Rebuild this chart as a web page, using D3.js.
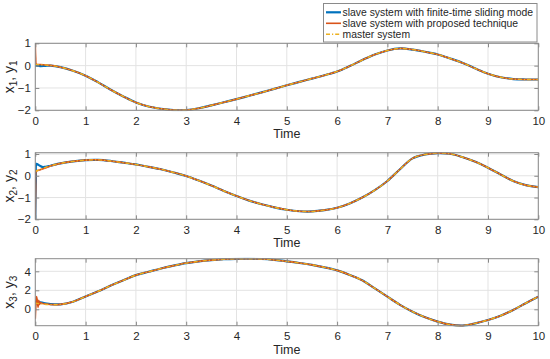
<!DOCTYPE html>
<html>
<head>
<meta charset="utf-8">
<script src="https://d3js.org/d3.v7.min.js"></script>
<style>
body { margin: 0; background: #fff; }
text { font-family: "Liberation Sans", Arial, Helvetica, sans-serif; fill: #262626; }
</style>
</head>
<body>
<script>
var time = [0, 0.25, 0.5, 0.75, 1, 1.25, 1.5, 1.75, 2, 2.25, 2.5, 2.75, 3, 3.25, 3.5, 3.75, 4, 4.25, 4.5, 4.75,
            5, 5.25, 5.5, 5.75, 6, 6.25, 6.5, 6.75, 7, 7.25, 7.5, 7.75, 8, 8.25, 8.5, 8.75, 9, 9.25, 9.5, 9.75, 10];

var x1Master = [0.05, 0.02, -0.07, -0.23, -0.45, -0.75, -1.08, -1.38, -1.65, -1.83, -1.93, -1.99, -1.99, -1.91, -1.78, -1.64, -1.5, -1.35, -1.2, -1.04,
                -0.88, -0.73, -0.58, -0.43, -0.26, -0.02, 0.25, 0.5, 0.68, 0.77, 0.72, 0.62, 0.5, 0.32, 0.12, -0.13, -0.36, -0.52, -0.6, -0.62, -0.62];
var x2Master = [0.2, 0.42, 0.57, 0.66, 0.72, 0.73, 0.68, 0.6, 0.52, 0.41, 0.3, 0.15, -0.01, -0.22, -0.45, -0.7, -0.93, -1.14, -1.31, -1.45,
                -1.56, -1.63, -1.64, -1.58, -1.47, -1.27, -1.0, -0.66, -0.24, 0.3, 0.8, 0.98, 1.04, 1.01, 0.85, 0.64, 0.37, 0.06, -0.24, -0.43, -0.52];
var x3Master = [0.65, 0.5, 0.52, 0.8, 1.35, 1.9, 2.5, 3.05, 3.6, 3.95, 4.3, 4.6, 4.87, 5.05, 5.18, 5.27, 5.32, 5.33, 5.3, 5.2,
                5.05, 4.88, 4.68, 4.42, 4.1, 3.62, 3.05, 2.2, 1.33, 0.47, -0.25, -0.85, -1.3, -1.62, -1.72, -1.48, -1.13, -0.68, -0.07, 0.64, 1.33];

// start-up transients of the two slave systems (after t = 0.3 they sit on the master curve)
var x1SlidingT = [0, 0.05, 0.1, 0.2, 0.3];
var x1SlidingV = [0.0, -0.01, -0.02, -0.01, 0.0];
var x1ProposedT = [0, 0.008, 0.02, 0.05, 0.1, 0.2, 0.3];
var x1ProposedV = [1.0, 0.35, 0.06, 0.05, 0.05, 0.03, 0.01];

var x2SlidingT = [0, 0.01, 0.025, 0.05, 0.1, 0.15, 0.2, 0.3];
var x2SlidingV = [-2, -0.3, 0.55, 0.52, 0.45, 0.4, 0.41, 0.46];
var x2ProposedT = [0, 0.008, 0.02, 0.05, 0.1, 0.2, 0.3];
var x2ProposedV = [-2, -0.6, 0.22, 0.24, 0.28, 0.36, 0.45];

var x3SlidingT = [0, 0.05, 0.1, 0.2, 0.3];
var x3SlidingV = [0.85, 0.78, 0.72, 0.63, 0.55];
var x3ProposedT = [0, 0.012, 0.025, 0.04, 0.055, 0.07, 0.085, 0.1, 0.15, 0.2, 0.3];
var x3ProposedV = [-1.0, 0.4, 1.35, 0.9, 0.2, 0.95, 0.5, 0.7, 0.6, 0.55, 0.5];

var xTicks = [0, 1, 2, 3, 4, 5, 6, 7, 8, 9, 10];
var yDomains = [[-2, 1], [-2, 1.06], [-1.73, 5.33]];
var yTicks = [[-2, -1, 0, 1], [-2, -1, 0, 1], [0, 2, 4]];
var yLabels = [["x", "1", ", y", "1"], ["x", "2", ", y", "2"], ["x", "3", ", y", "3"]];
var legendNames = ["slave system with finite-time sliding mode", "slave system with proposed technique", "master system"];

var colors = ["#0072BD", "#D95319", "#EDB120"];
var widths = [2.2, 1.6, 1.4];
var dashes = [null, null, "4,2,1.2,2"];

function splice(tt, vv, master) {
  var pts = tt.map(function(t, i) { return [t, vv[i]] });
  time.forEach(function(t, i) { if (t > 0.3) pts.push([t, master[i]]) });
  return pts;
}
function full(master) {
  return time.map(function(t, i) { return [t, master[i]] });
}

var panels = [
  [splice(x1SlidingT, x1SlidingV, x1Master), splice(x1ProposedT, x1ProposedV, x1Master), full(x1Master)],
  [splice(x2SlidingT, x2SlidingV, x2Master), splice(x2ProposedT, x2ProposedV, x2Master), full(x2Master)],
  [splice(x3SlidingT, x3SlidingV, x3Master), splice(x3ProposedT, x3ProposedV, x3Master), full(x3Master)]
];

var W = 550, H = 359;
var left = 35.3, right = 538.3;
var tops = [43.3, 152.7, 258.7], bottoms = [110.3, 219.3, 325.7];

var svg = d3.select("body").append("svg")
    .attr("width", W)
    .attr("height", H);

var x = d3.scaleLinear().domain([0, 10]).range([left, right]);

panels.forEach(function(series, p) {
  var y = d3.scaleLinear().domain(yDomains[p]).range([bottoms[p], tops[p]]);
  var g = svg.append("g");

  // grid
  g.append("g").selectAll("line").data(xTicks).enter().append("line")
      .attr("x1", function(d) { return x(d) }).attr("x2", function(d) { return x(d) })
      .attr("y1", tops[p]).attr("y2", bottoms[p])
      .attr("stroke", "#e3e3e3").attr("stroke-width", 1);
  g.append("g").selectAll("line").data(yTicks[p]).enter().append("line")
      .attr("x1", left).attr("x2", right)
      .attr("y1", function(d) { return y(d) }).attr("y2", function(d) { return y(d) })
      .attr("stroke", "#e3e3e3").attr("stroke-width", 1);

  svg.append("clipPath").attr("id", "clip" + p)
    .append("rect").attr("x", left).attr("y", tops[p] - 1)
      .attr("width", right - left).attr("height", bottoms[p] - tops[p] + 2);

  var line = d3.line()
      .curve(d3.curveCatmullRom.alpha(0.5))
      .x(function(d) { return x(d[0]) })
      .y(function(d) { return y(d[1]) });

  series.forEach(function(s, i) {
    g.append("path")
        .datum(s)
        .attr("clip-path", "url(#clip" + p + ")")
        .attr("fill", "none")
        .attr("stroke", colors[i])
        .attr("stroke-width", widths[i])
        .attr("stroke-dasharray", dashes[i])
        .attr("stroke-linejoin", "round")
        .attr("d", line);
  });

  // axes with inward ticks
  g.append("g")
      .attr("transform", "translate(0," + bottoms[p] + ")")
      .call(d3.axisBottom(x).tickValues(xTicks).tickSizeInner(-4).tickSizeOuter(0).tickPadding(6.5).tickFormat(d3.format("d")));
  g.append("g")
      .attr("transform", "translate(0," + tops[p] + ")")
      .call(d3.axisTop(x).tickValues(xTicks).tickSizeInner(-4).tickSizeOuter(0).tickFormat(""));
  g.append("g")
      .attr("transform", "translate(" + left + ",0)")
      .call(d3.axisLeft(y).tickValues(yTicks[p]).tickSizeInner(-4).tickSizeOuter(0).tickPadding(4.5).tickFormat(d3.format("d")));
  g.append("g")
      .attr("transform", "translate(" + right + ",0)")
      .call(d3.axisRight(y).tickValues(yTicks[p]).tickSizeInner(-4).tickSizeOuter(0).tickFormat(""));

  g.selectAll(".domain").remove();
  g.selectAll(".tick line").attr("stroke", "#888");
  g.selectAll(".tick text").attr("font-size", 11.5).attr("font-family", null).style("fill", "#262626");

  g.append("rect")
      .attr("x", left).attr("y", tops[p])
      .attr("width", right - left).attr("height", bottoms[p] - tops[p])
      .attr("fill", "none").attr("stroke", "#8a8a8a").attr("stroke-width", 1);

  g.append("text")
      .attr("x", (left + right) / 2)
      .attr("y", bottoms[p] + 28)
      .attr("text-anchor", "middle")
      .attr("font-size", 12.5)
      .text("Time");

  var lab = g.append("text")
      .attr("transform", "translate(13.5," + (tops[p] + bottoms[p]) / 2 + ") rotate(-90)")
      .attr("text-anchor", "middle")
      .attr("font-size", 14);
  lab.append("tspan").text(yLabels[p][0]);
  lab.append("tspan").attr("font-size", 10).attr("dy", 3).text(yLabels[p][1]);
  lab.append("tspan").attr("dy", -3).text(yLabels[p][2]);
  lab.append("tspan").attr("font-size", 10).attr("dy", 3).text(yLabels[p][3]);
});

// legend
var leg = svg.append("g");
leg.append("rect")
    .attr("x", 323.5).attr("y", 3.5).attr("width", 213.5).attr("height", 38.5)
    .attr("fill", "#fff").attr("stroke", "#8a8a8a").attr("stroke-width", 1);
legendNames.forEach(function(name, i) {
  var yy = 12.3 + i * 11;
  leg.append("line")
      .attr("x1", 326).attr("x2", 341)
      .attr("y1", yy).attr("y2", yy)
      .attr("stroke", colors[i])
      .attr("stroke-width", widths[i])
      .attr("stroke-dasharray", dashes[i]);
  leg.append("text")
      .attr("x", 342.5).attr("y", yy + 3.7)
      .attr("font-size", 10.4)
      .text(name);
});
</script>
</body>
</html>
